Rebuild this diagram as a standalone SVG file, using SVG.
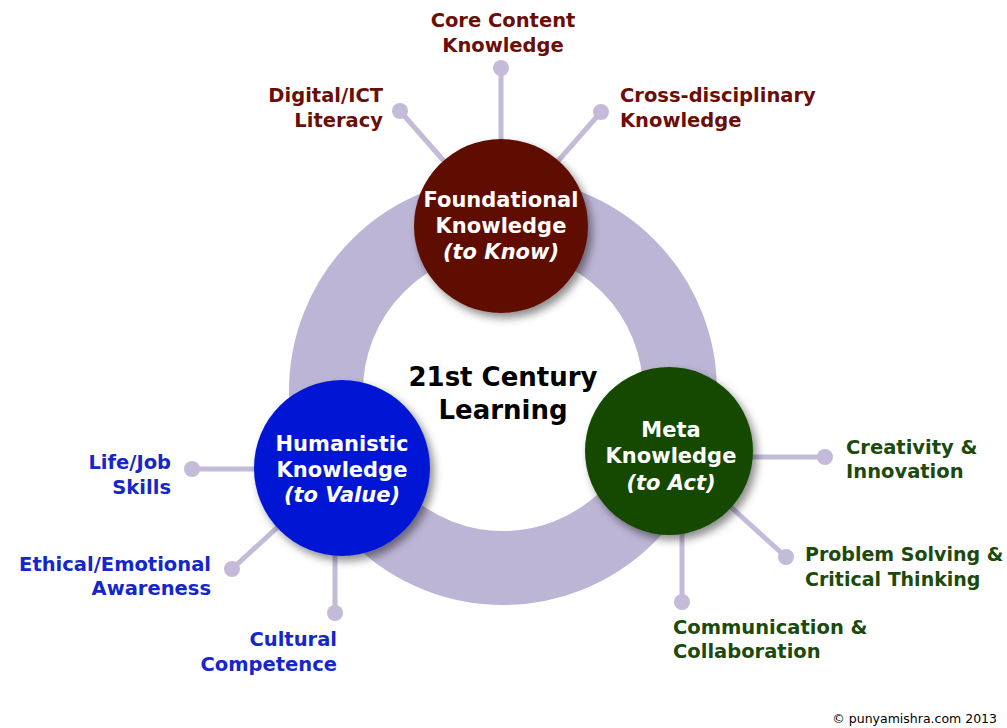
<svg xmlns="http://www.w3.org/2000/svg" width="1007" height="728" viewBox="0 0 1007 728">
<defs>
<style>
.lbl{font-family:"DejaVu Sans","Liberation Sans",sans-serif;font-weight:bold;font-size:19.5px}
.sm{font-size:19px}
.maroon{fill:#6A0E08}
.green{fill:#1B4A0C}
.blue{fill:#1426CC}
.node{font-family:"DejaVu Sans","Liberation Sans",sans-serif;font-weight:bold;font-size:21px;fill:#ffffff;text-anchor:middle}
.it{font-style:italic}
.spoke{stroke:#C3BBD7;stroke-width:5;fill:none}
.dot{fill:#C3BBD7}
</style>
<filter id="sh" x="-20%" y="-20%" width="150%" height="150%">
<feDropShadow dx="4" dy="5" stdDeviation="4" flood-color="#000" flood-opacity="0.45"/>
</filter>
</defs>
<rect width="1007" height="728" fill="#ffffff"/>
<circle id="ring" cx="503" cy="391" r="177" fill="none" stroke="#BDB5D5" stroke-width="74"/>
<g id="connectors">
<line class="spoke" x1="501" y1="226" x2="501" y2="68"/>
<line class="spoke" x1="501" y1="226" x2="400" y2="111"/>
<line class="spoke" x1="501" y1="226" x2="601" y2="112"/>
<line class="spoke" x1="700" y1="457" x2="825" y2="457"/>
<line class="spoke" x1="669" y1="451" x2="786" y2="557"/>
<line class="spoke" x1="682" y1="480" x2="682" y2="602"/>
<line class="spoke" x1="300" y1="469" x2="192" y2="469"/>
<line class="spoke" x1="342" y1="468" x2="232" y2="569"/>
<line class="spoke" x1="335" y1="500" x2="335" y2="613"/>
<circle class="dot" cx="501" cy="68" r="8"/>
<circle class="dot" cx="400" cy="111" r="8"/>
<circle class="dot" cx="601" cy="112" r="8"/>
<circle class="dot" cx="825" cy="457" r="8"/>
<circle class="dot" cx="786" cy="557" r="8"/>
<circle class="dot" cx="682" cy="602" r="8"/>
<circle class="dot" cx="192" cy="469" r="8"/>
<circle class="dot" cx="232" cy="569" r="8"/>
<circle class="dot" cx="335" cy="613" r="8"/>
</g>
<g id="center">
<text x="503" y="386" text-anchor="middle" font-family="DejaVu Sans, Liberation Sans, sans-serif" font-weight="bold" font-size="26" fill="#000">21st Century</text>
<text x="503" y="419" text-anchor="middle" font-family="DejaVu Sans, Liberation Sans, sans-serif" font-weight="bold" font-size="26" fill="#000">Learning</text>
</g>
<g id="foundational">
<circle cx="501" cy="226" r="87" fill="#5E0B00" filter="url(#sh)"/>
<text class="node" x="501" y="207">Foundational</text>
<text class="node" x="501" y="233">Knowledge</text>
<text class="node it" x="501" y="259">(to Know)</text>
</g>
<g id="meta">
<circle cx="669" cy="451" r="84" fill="#144A06" filter="url(#sh)"/>
<text class="node" x="671" y="437">Meta</text>
<text class="node" x="671" y="463">Knowledge</text>
<text class="node it" x="671" y="490">(to Act)</text>
</g>
<g id="humanistic">
<circle cx="342" cy="468" r="88" fill="#0419D4" filter="url(#sh)"/>
<text class="node" x="342" y="451">Humanistic</text>
<text class="node" x="342" y="477">Knowledge</text>
<text class="node it" x="342" y="502">(to Value)</text>
</g>
<g id="core-content">
<text class="lbl maroon" x="503" y="27" text-anchor="middle">Core Content</text>
<text class="lbl maroon" x="503" y="52" text-anchor="middle">Knowledge</text>
</g>
<g id="digital-ict">
<text class="lbl maroon" x="383" y="102" text-anchor="end">Digital/ICT</text>
<text class="lbl maroon" x="383" y="127" text-anchor="end">Literacy</text>
</g>
<g id="cross-disciplinary">
<text class="lbl maroon" x="620" y="102">Cross-disciplinary</text>
<text class="lbl maroon" x="620" y="127">Knowledge</text>
</g>
<g id="creativity">
<text class="lbl green" x="846" y="454">Creativity &amp;</text>
<text class="lbl green" x="846" y="478">Innovation</text>
</g>
<g id="problem-solving">
<text class="lbl sm green" x="805" y="561">Problem Solving &amp;</text>
<text class="lbl sm green" x="805" y="586">Critical Thinking</text>
</g>
<g id="communication">
<text class="lbl green" x="673" y="634">Communication &amp;</text>
<text class="lbl green" x="673" y="658">Collaboration</text>
</g>
<g id="life-job">
<text class="lbl blue" x="171" y="469" text-anchor="end">Life/Job</text>
<text class="lbl blue" x="171" y="494" text-anchor="end">Skills</text>
</g>
<g id="ethical">
<text class="lbl blue" x="211" y="571" text-anchor="end">Ethical/Emotional</text>
<text class="lbl blue" x="211" y="595" text-anchor="end">Awareness</text>
</g>
<g id="cultural">
<text class="lbl blue" x="337" y="646" text-anchor="end">Cultural</text>
<text class="lbl blue" x="337" y="671" text-anchor="end">Competence</text>
</g>
<text id="copyright" x="997" y="723" text-anchor="end" font-family="DejaVu Sans, Liberation Sans, sans-serif" font-size="12.5" fill="#000">© punyamishra.com 2013</text>
</svg>
